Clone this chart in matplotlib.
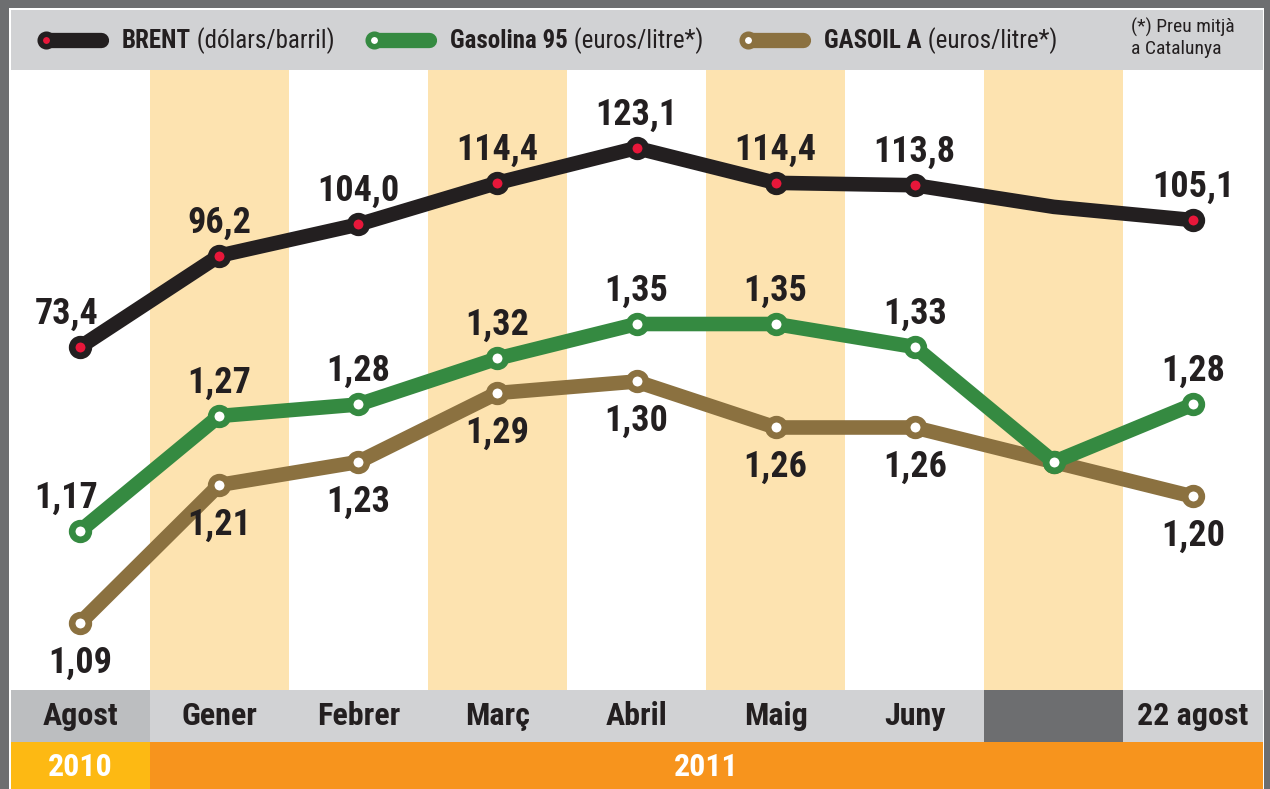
import matplotlib
matplotlib.use("Agg")
import matplotlib.pyplot as plt
from matplotlib import font_manager
from matplotlib.patches import Rectangle

# ---------------- data ----------------
months = ['Agost', 'Gener', 'Febrer', 'Març', 'Abril', 'Maig', 'Juny', '', '22 agost']
years = ['2010', '2011']
brent = [73.4, 96.2, 104.0, 114.4, 123.1, 114.4, 113.8, 108.4, 105.1]
gasolina = [1.17, 1.27, 1.28, 1.32, 1.35, 1.35, 1.33, 1.23, 1.28]
gasoil = [1.09, 1.21, 1.23, 1.29, 1.30, 1.26, 1.26, 1.23, 1.20]
brent_labels = ['73,4', '96,2', '104,0', '114,4', '123,1', '114,4', '113,8', '', '105,1']
gasolina_labels = ['1,17', '1,27', '1,28', '1,32', '1,35', '1,35', '1,33', '', '1,28']
gasoil_labels = ['1,09', '1,21', '1,23', '1,29', '1,30', '1,26', '1,26', '', '1,20']

# ---------------- style ----------------
avail = {f.name for f in font_manager.fontManager.ttflist}
FONT = next((f for f in ['Roboto Condensed', 'Liberation Sans Narrow', 'Open Sans Condensed',
                         'Roboto', 'Open Sans'] if f in avail), 'DejaVu Sans')
plt.rcParams['font.family'] = [FONT, 'DejaVu Sans']

DARK = '#231f20'
BLACK = '#231f20'
RED = '#e8173a'
GREEN = '#358a41'
BROWN = '#8b7140'
SHADE = '#fde3b0'
LGRAY = '#d1d2d4'
MGRAY = '#bcbec0'
DGRAY = '#6d6e70'
YELLOW = '#fdb913'
ORANGE = '#f7941d'

W, H = 1270, 789
fig = plt.figure(figsize=(W / 100, H / 100), dpi=100, facecolor=DGRAY)

def px_axes(x0, y0, x1, y1, **kw):
    return fig.add_axes([x0 / W, 1 - y1 / H, (x1 - x0) / W, (y1 - y0) / H], **kw)

XL, XR = 10.5, 1262.5

# white panel behind everything
bg = px_axes(9, 8, 1264, 789)
bg.set_facecolor('white')
bg.set_xticks([]); bg.set_yticks([])
for s in bg.spines.values():
    s.set_visible(False)

# ---------------- main plot ----------------
ax = px_axes(XL, 70, XR, 690)
ax.set_xlim(-0.5, len(months) - 0.5)
ax.set_ylim(1.0317, 1.5709)
ax.set_facecolor('white')
ax.axis('off')
for i in range(1, len(months), 2):
    ax.axvspan(i - 0.5, i + 0.5, color=SHADE, lw=0, zorder=0)

x = list(range(len(months)))
line_kw = dict(lw=10.5, solid_capstyle='round', solid_joinstyle='round', marker='o',
               ms=12, mew=4.8, clip_on=False)
ax.plot(x, gasoil, color=BROWN, mec=BROWN, mfc='white', zorder=3, **line_kw)
ax.plot(x, gasolina, color=GREEN, mec=GREEN, mfc='white', zorder=4, **line_kw)

ax2 = ax.twinx()
ax2.set_ylim(-12.26, 142.58)
ax2.axis('off')
brent_marks = [i for i, l in enumerate(brent_labels) if l]
ax2.plot(x, brent, color=BLACK, mec=BLACK, mfc=RED, markevery=brent_marks, zorder=5, **line_kw)

lab_kw = dict(textcoords='offset points', ha='center', va='center', fontsize=26,
              fontweight='bold', color=DARK, zorder=6)
UP, DOWN = 24, 28.5
for i in x:
    dx = -10 if i == 0 else 0
    if brent_labels[i]:
        ax2.annotate(brent_labels[i], (i, brent[i]), xytext=(dx, UP), **lab_kw)
    if gasolina_labels[i]:
        ax.annotate(gasolina_labels[i], (i, gasolina[i]), xytext=(dx, UP), **lab_kw)
    if gasoil_labels[i]:
        ax.annotate(gasoil_labels[i], (i, gasoil[i]), xytext=(0, -DOWN), **lab_kw)

# ---------------- bottom bars ----------------
bx = px_axes(XL, 690, XR, 789)
bx.set_xlim(-0.5, len(months) - 0.5)
bx.set_ylim(0, 99)
bx.axis('off')
for i, m in enumerate(months):
    c = LGRAY
    if i == 0:
        c = MGRAY
    if m == '':
        c = DGRAY
    bx.add_patch(Rectangle((i - 0.5, 47), 1, 52, color=c, lw=0))
    if m:
        bx.text(i, 73, m, ha='center', va='center', fontsize=23, fontweight='bold', color=DARK)
bx.add_patch(Rectangle((-0.5, 0), 1, 47, color=YELLOW, lw=0))
bx.add_patch(Rectangle((0.5, 0), len(months) - 1, 47, color=ORANGE, lw=0))
bx.text(0, 22, years[0], ha='center', va='center', fontsize=23, fontweight='bold', color='white')
bx.text((0.5 + len(months) - 0.5) / 2, 22, years[1], ha='center', va='center', fontsize=23,
        fontweight='bold', color='white')

# ---------------- legend bar ----------------
lx = px_axes(XL, 10, XR, 70)
lx.set_xlim(XL, XR)
lx.set_ylim(70, 10)
lx.set_facecolor(LGRAY)
lx.set_xticks([]); lx.set_yticks([])
for s in lx.spines.values():
    s.set_visible(False)

renderer = fig.canvas.get_renderer()
legend_items = [
    (46, 'BRENT', ' (dólars/barril)', BLACK, RED),
    (374, 'Gasolina 95', ' (euros/litre*)', GREEN, 'white'),
    (748, 'GASOIL A', ' (euros/litre*)', BROWN, 'white'),
]
for x0, bold, reg, col, inner in legend_items:
    lx.plot([x0, x0 + 55], [40, 40], color=col, lw=11, solid_capstyle='round')
    lx.plot([x0], [40], marker='o', ms=9, mew=4, mec=col, mfc=inner, ls='none')
    t = lx.text(x0 + 76, 41, bold, ha='left', va='center', fontsize=18, fontweight='bold', color=DARK)
    bb = t.get_window_extent(renderer)
    xe = lx.transData.inverted().transform((bb.x1, bb.y0))[0]
    lx.text(xe, 41, reg, ha='left', va='center', fontsize=18, color=DARK)
lx.text(1131, 38, '(*) Preu mitjà\na Catalunya', ha='left', va='center', fontsize=14,
        color=DARK, linespacing=1.2)

fig.savefig('out.png', dpi=100, facecolor=fig.get_facecolor())
